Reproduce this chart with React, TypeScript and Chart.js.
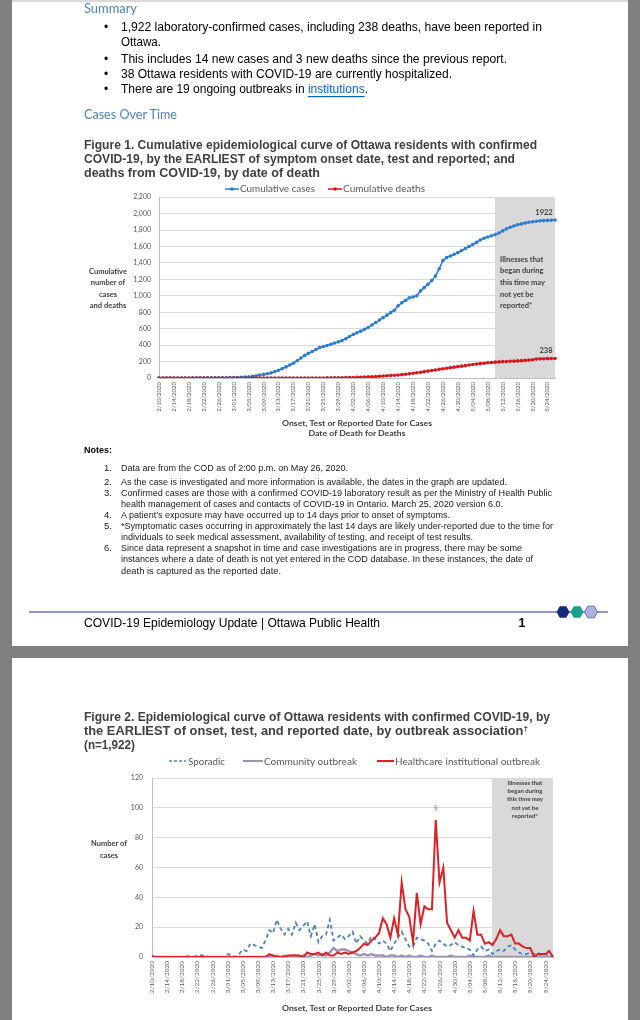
import React, { useEffect, useRef } from 'react';
import { Chart, registerables } from 'chart.js';
Chart.register(...registerables);

// ---------- categories (2/10/2020 .. 5/26/2020, one per day) ----------
const dateLabels: string[] = [];
for (let i = 0; i < 107; i++) {
  const d = new Date(2020, 1, 10 + i);
  dateLabels.push(`${d.getMonth() + 1}/${String(d.getDate()).padStart(2, '0')}/2020`);
}

// ---------- Figure 1: cumulative series ----------
const cumulativeCases = [
  0, 0, 0, 0, 0, 0, 0, 0, 0, 1,
  1, 1, 2, 2, 2, 3, 3, 3, 3, 4,
  5, 6, 8, 12, 16, 22, 28, 36, 44, 52,
  62, 78, 95, 115, 135, 158, 180, 210, 243, 275,
  300, 322, 347, 370, 384, 395, 410, 425, 440, 455,
  478, 505, 530, 550, 570, 592, 615, 645, 675, 705,
  735, 765, 795, 825, 880, 915, 945, 975, 985, 1000,
  1060, 1100, 1140, 1185, 1240, 1330, 1430, 1465, 1485, 1505,
  1525, 1550, 1575, 1600, 1625, 1650, 1680, 1700, 1715, 1730,
  1745, 1765, 1790, 1815, 1835, 1850, 1865, 1875, 1885, 1895,
  1902, 1908, 1912, 1915, 1918, 1920, 1922,
];
const cumulativeDeaths = [
  0, 0, 0, 0, 0, 0, 0, 0, 0, 0,
  0, 0, 0, 0, 0, 0, 0, 0, 0, 0,
  0, 0, 0, 0, 0, 0, 0, 0, 0, 0,
  0, 0, 0, 0, 0, 0, 0, 0, 0, 0,
  0, 0, 0, 0, 0, 1, 1, 2, 3, 3,
  4, 5, 6, 8, 10, 12, 14, 16, 19, 22,
  25, 28, 31, 33, 37, 41, 46, 52, 58, 63,
  70, 77, 84, 91, 98, 105, 112, 119, 126, 132,
  138, 144, 150, 158, 164, 170, 175, 180, 185, 189,
  193, 196, 199, 201, 203, 205, 208, 211, 214, 218,
  222, 230, 233, 235, 236, 237, 238,
];
const fig1YTicks = { min: 0, max: 2200, step: 200 };

// ---------- Figure 2: daily counts by outbreak association ----------
const sporadic = [
  1, 0, 0, 0, 0, 0, 0, 0, 0, 1,
  0, 0, 1, 1, 1, 0, 0, 0, 0, 0,
  2, 1, 0, 2, 5, 4, 9, 8, 7, 6,
  11, 18, 16, 25, 19, 15, 19, 15, 23, 18,
  21, 24, 14, 22, 10, 14, 15, 25, 11, 13,
  15, 12, 14, 17, 9, 14, 11, 9, 14, 12,
  9, 11, 9, 4, 9, 13, 17, 12, 7, 7,
  13, 12, 11, 9, 4, 9, 11, 9, 7, 8,
  10, 8, 7, 6, 5, 1, 5, 7, 4, 5,
  2, 4, 5, 4, 7, 8, 5, 3, 2, 2,
  3, 2, 3, 1, 2, 1, 0,
];
const communityOutbreak = [
  0, 0, 0, 0, 0, 0, 0, 0, 0, 0,
  0, 0, 0, 0, 0, 0, 0, 0, 0, 0,
  0, 0, 0, 0, 0, 0, 0, 0, 0, 0,
  0, 1, 0, 1, 0, 1, 0, 1, 1, 0,
  1, 0, 1, 2, 1, 2, 1, 3, 6, 4,
  5, 5, 4, 3, 2, 1, 2, 1, 2, 1,
  1, 1, 0, 1, 1, 0, 1, 0, 1, 0,
  0, 1, 0, 0, 1, 0, 0, 0, 0, 1,
  0, 0, 0, 0, 1, 0, 0, 0, 0, 1,
  0, 0, 0, 0, 0, 0, 0, 0, 0, 0,
  0, 0, 0, 0, 0, 0, 0,
];
const healthcareOutbreak = [
  0, 0, 0, 0, 0, 0, 0, 0, 0, 0,
  0, 0, 0, 0, 0, 0, 0, 0, 0, 0,
  0, 0, 0, 0, 0, 0, 0, 0, 0, 0,
  0, 2, 1, 0, 0, 0, 1, 1, 1, 1,
  0, 3, 2, 2, 3, 1, 3, 1, 1, 3,
  2, 3, 2, 3, 4, 6, 9, 8, 11, 13,
  16, 26, 22, 13, 26, 15, 50, 32, 27, 10,
  43, 22, 34, 32, 32, 92, 50, 60, 23, 18,
  13, 18, 13, 13, 11, 31, 15, 15, 9, 10,
  8, 12, 18, 14, 14, 15, 9, 9, 7, 6,
  6, 0, 2, 2, 2, 4, 0,
];
const fig2YTicks = { min: 0, max: 120, step: 20 };
const shadeFromIndex = 89.9; // "illnesses may not yet be reported" region starts here

// ---------- plugins ----------
function makeShade(from: number, color: string) {
  return {
    id: 'shade',
    beforeDraw(chart: any) {
      const { ctx, chartArea, scales } = chart;
      const x0 = scales.x.getPixelForValue(from);
      ctx.save();
      ctx.fillStyle = color;
      ctx.fillRect(x0, chartArea.top, chartArea.right - x0, chartArea.bottom - chartArea.top);
      ctx.restore();
    },
  };
}
function makePointText(items: any[]) {
  return {
    id: 'pointText',
    afterDatasetsDraw(chart: any) {
      const { ctx } = chart;
      items.forEach((it) => {
        const el = chart.getDatasetMeta(it.dataset).data[it.index];
        if (!el) return;
        ctx.save();
        ctx.font = it.font;
        ctx.fillStyle = it.color;
        ctx.textAlign = 'center';
        ctx.textBaseline = 'middle';
        ctx.fillText(it.text, el.x + it.dx, el.y + it.dy);
        ctx.restore();
      });
    },
  };
}

const CAL = 'Lato, sans-serif';
const ARIAL = '"Liberation Sans", Arial, sans-serif';

function xScale(fontSize: number, height: number) {
  return {
    type: 'category',
    offset: false,
    grid: { display: false, drawTicks: false },
    border: { display: true, color: '#bfbfbf' },
    ticks: {
      autoSkip: false,
      maxRotation: 90,
      minRotation: 90,
      padding: 4,
      color: '#595959',
      font: { size: fontSize, family: CAL },
      callback: (_v: any, i: number) => (i % 4 === 0 ? dateLabels[i] : ''),
    },
    afterFit: (s: any) => { s.height = height; },
  };
}
function yScale(t: { min: number; max: number; step: number }, width: number, pad: number) {
  return {
    min: t.min,
    max: t.max,
    grid: { color: '#d9d9d9', drawTicks: false },
    border: { display: true, color: '#bfbfbf' },
    ticks: {
      stepSize: t.step,
      padding: pad,
      color: '#595959',
      font: { size: 7, family: CAL },
      callback: (v: any) => Number(v).toLocaleString('en-US'),
    },
    afterFit: (s: any) => { s.width = width; },
  };
}

// ---------- text helper ----------
function Tx(p: any) {
  return (
    <text
      x={p.x}
      y={p.y}
      fontSize={p.s}
      fontFamily={p.f || ARIAL}
      fontWeight={p.b ? 'bold' : 'normal'}
      fill={p.c || '#000'}
      textAnchor={p.a || 'start'}
      dominantBaseline="central"
      textLength={p.w}
      lengthAdjust={p.w ? 'spacingAndGlyphs' : undefined}
    >
      {p.children}
    </text>
  );
}

function hex(cx: number, cy: number, r: number) {
  const h = r * 0.9;
  return `${cx - r},${cy} ${cx - r / 2},${cy - h} ${cx + r / 2},${cy - h} ${cx + r},${cy} ${cx + r / 2},${cy + h} ${cx - r / 2},${cy + h}`;
}

const notes: [string, string, number, number][] = [
  ['1.', 'Data are from the COD as of 2:00 p.m. on May 26, 2020.', 467, 227],
  ['2.', 'As the case is investigated and more information is available, the dates in the graph are updated.', 481, 386],
  ['3.', 'Confirmed cases are those with a confirmed COVID-19 laboratory result as per the Ministry of Health Public', 492, 431],
  ['', 'health management of cases and contacts of COVID-19 in Ontario. March 25, 2020 version 6.0.', 503, 382],
  ['4.', 'A patient\u2019s exposure may have occurred up to 14 days prior to onset of symptoms.', 514, 329],
  ['5.', '*Symptomatic cases occurring in approximately the last 14 days are likely under-reported due to the time for', 525, 432],
  ['', 'individuals to seek medical assessment, availability of testing, and receipt of test results.', 536, 352],
  ['6.', 'Since data represent a snapshot in time and case investigations are in progress, there may be some', 547, 401],
  ['', 'instances where a date of death is not yet entered in the COD database. In these instances, the date of', 558, 412],
  ['', 'death is captured as the reported date.', 570, 160],
];

export default function App() {
  const c1 = useRef<HTMLCanvasElement>(null);
  const c2 = useRef<HTMLCanvasElement>(null);

  useEffect(() => {
    const last = cumulativeCases.length - 1;
    const ch1 = new Chart(c1.current as HTMLCanvasElement, {
      type: 'line',
      data: {
        labels: dateLabels,
        datasets: [
          {
            label: 'Cumulative cases',
            data: cumulativeCases,
            borderColor: '#2a7bd1',
            backgroundColor: '#2a7bd1',
            borderWidth: 1.5,
            pointRadius: 1.8,
            pointBorderWidth: 0,
            order: 2,
          },
          {
            label: 'Cumulative deaths',
            data: cumulativeDeaths,
            borderColor: '#d9161c',
            backgroundColor: '#d9161c',
            borderWidth: 1.5,
            pointRadius: 1.8,
            pointBorderWidth: 0,
            order: 1,
          },
        ],
      },
      options: {
        responsive: false,
        animation: false,
        events: [],
        layout: { padding: { left: 0, right: 15, top: 10, bottom: 0 } },
        plugins: { legend: { display: false }, tooltip: { enabled: false } },
        scales: { x: xScale(6, 37), y: yScale(fig1YTicks, 39, 8) },
      } as any,
      plugins: [
        makeShade(shadeFromIndex, '#d9d9d9'),
        makePointText([
          { dataset: 0, index: last, text: String(cumulativeCases[last]), dx: -11, dy: -7, font: `bold 7.5px ${CAL}`, color: '#404040' },
          { dataset: 1, index: last, text: String(cumulativeDeaths[last]), dx: -9, dy: -8, font: `bold 7.5px ${CAL}`, color: '#404040' },
        ]),
      ] as any,
    });

    const peak = healthcareOutbreak.indexOf(Math.max(...healthcareOutbreak));
    const ch2 = new Chart(c2.current as HTMLCanvasElement, {
      type: 'line',
      data: {
        labels: dateLabels,
        datasets: [
          {
            label: 'Sporadic',
            data: sporadic,
            borderColor: '#4f81bd',
            borderWidth: 1.8,
            borderDash: [4, 3],
            pointRadius: 0,
            order: 2,
          },
          {
            label: 'Community outbreak',
            data: communityOutbreak,
            borderColor: '#9d91b6',
            borderWidth: 2.4,
            pointRadius: 0,
            order: 3,
          },
          {
            label: 'Healthcare institutional outbreak',
            data: healthcareOutbreak,
            borderColor: '#dc2228',
            borderWidth: 2,
            pointRadius: 0,
            order: 1,
          },
        ],
      },
      options: {
        responsive: false,
        animation: false,
        events: [],
        layout: { padding: { left: 0, right: 17, top: 8, bottom: 0 } },
        plugins: { legend: { display: false }, tooltip: { enabled: false } },
        scales: { x: xScale(6.5, 43), y: yScale(fig2YTicks, 42, 9) },
      } as any,
      plugins: [
        makeShade(shadeFromIndex, '#d9d9d9'),
        makePointText([
          { dataset: 2, index: peak, text: '\u00a7', dx: 0, dy: -11, font: `7px ${CAL}`, color: '#7f7f7f' },
        ]),
      ] as any,
    });
    return () => {
      ch1.destroy();
      ch2.destroy();
    };
  }, []);

  const blue = '#4f81bd';
  const title = '#404040';
  const chartText = '#404040';

  return (
    <div style={{ position: 'fixed', left: 0, top: 0, width: 640, height: 1020, background: '#808080', overflow: 'hidden' }}>
      <div style={{ position: 'absolute', left: 12, top: -20, width: 616, height: 666, background: '#fff' }} />
      <div style={{ position: 'absolute', left: 12, top: 658, width: 616, height: 400, background: '#fff' }} />
      <canvas ref={c1} width={450} height={230} style={{ position: 'absolute', left: 120, top: 185, width: 450, height: 230 }} />
      <canvas ref={c2} width={460} height={235} style={{ position: 'absolute', left: 110, top: 765, width: 460, height: 235 }} />
      <svg width={640} height={1020} style={{ position: 'absolute', left: 0, top: 0, pointerEvents: 'none' }}>
        <line x1={12} y1={1} x2={628} y2={1} stroke="#b4b4b4" strokeWidth={1} />
        {/* Summary */}
        <Tx x={84} y={8} s={12.5} f={CAL} c={blue} w={53}>Summary</Tx>
        {[27, 59, 74, 89].map((y) => (
          <Tx key={y} x={106} y={y} s={12} a="middle">{'\u2022'}</Tx>
        ))}
        <Tx x={121} y={27} s={12} w={421}>1,922 laboratory-confirmed cases, including 238 deaths, have been reported in</Tx>
        <Tx x={121} y={42} s={12} w={40}>Ottawa.</Tx>
        <Tx x={121} y={59} s={12} w={386}>This includes 14 new cases and 3 new deaths since the previous report.</Tx>
        <Tx x={121} y={74} s={12} w={331}>38 Ottawa residents with COVID-19 are currently hospitalized.</Tx>
        <text x={121} y={89} fontSize={12} fontFamily={ARIAL} dominantBaseline="central" textLength={247} lengthAdjust="spacingAndGlyphs">
          There are 19 ongoing outbreaks in{' '}
          <tspan fill="#0563c1" style={{ textDecoration: 'underline' }}>institutions</tspan>.
        </text>
        <Tx x={84} y={114} s={12.5} f={CAL} c={blue} w={93}>Cases Over Time</Tx>

        {/* Figure 1 title */}
        <Tx x={84} y={145} s={12.5} b c={title} w={453}>Figure 1. Cumulative epidemiological curve of Ottawa residents with confirmed</Tx>
        <Tx x={84} y={159} s={12.5} b c={title} w={431}>COVID-19, by the EARLIEST of symptom onset date, test and reported; and</Tx>
        <Tx x={84} y={173} s={12.5} b c={title} w={236}>deaths from COVID-19, by date of death</Tx>

        {/* Figure 1 legend */}
        <line x1={225} y1={189} x2={239} y2={189} stroke="#2a7bd1" strokeWidth={1.5} />
        <circle cx={232} cy={189} r={1.8} fill="#2a7bd1" />
        <Tx x={240} y={189} s={8.5} f={CAL} c="#595959" w={75}>Cumulative cases</Tx>
        <line x1={328} y1={189} x2={342} y2={189} stroke="#d9161c" strokeWidth={1.5} />
        <circle cx={335} cy={189} r={1.8} fill="#d9161c" />
        <Tx x={343} y={189} s={8.5} f={CAL} c="#595959" w={82}>Cumulative deaths</Tx>

        {/* Figure 1 axis titles */}
        {['Cumulative', 'number of', 'cases', 'and deaths'].map((t, i) => (
          <Tx key={t} x={108} y={[271, 282, 294, 305][i]} s={7.5} f={CAL} b c={chartText} a="middle">{t}</Tx>
        ))}
        <Tx x={357} y={423} s={8} f={CAL} b c={chartText} a="middle" w={150}>Onset, Test or Reported Date for Cases</Tx>
        <Tx x={357} y={433} s={8} f={CAL} b c={chartText} a="middle" w={97}>Date of Death for Deaths</Tx>
        {['Illnesses that', 'began during', 'this time may', 'not yet be', 'reported*'].map((t, i) => (
          <Tx key={t} x={500} y={259 + i * 11.7} s={7.5} f={CAL} b c={chartText}>{t}</Tx>
        ))}

        {/* Notes */}
        <Tx x={84} y={449} s={9.5} b w={28}>Notes:</Tx>
        {notes.map(([n, t, y, w], i) => (
          <g key={i}>
            {n && <Tx x={104} y={y} s={9.5} c="#1a1a1a">{n}</Tx>}
            <Tx x={121} y={y} s={9.5} c="#1a1a1a" w={w}>{t}</Tx>
          </g>
        ))}

        {/* Footer */}
        <line x1={29} y1={612} x2={608} y2={612} stroke="#6674b8" strokeWidth={1.5} />
        <polygon points={hex(563, 612, 6.5)} fill="#172a7a" />
        <polygon points={hex(577, 612, 6.5)} fill="#17a08b" />
        <polygon points={hex(591, 612, 6.5)} fill="#aeb0e0" stroke="#6a6fb8" strokeWidth={1} />
        <Tx x={84} y={623} s={12.5} w={296}>COVID-19 Epidemiology Update | Ottawa Public Health</Tx>
        <Tx x={522} y={623} s={12.5} b a="middle">1</Tx>

        {/* Figure 2 title */}
        <Tx x={84} y={717} s={12.5} b c={title} w={466}>Figure 2. Epidemiological curve of Ottawa residents with confirmed COVID-19, by</Tx>
        <text x={84} y={731} fontSize={12.5} fontFamily={ARIAL} fontWeight="bold" fill={title} dominantBaseline="central" textLength={444} lengthAdjust="spacingAndGlyphs">
          the EARLIEST of onset, test, and reported date, by outbreak association<tspan fontSize={8} dy={-3}>{'\u2020'}</tspan>
        </text>
        <Tx x={84} y={745} s={12.5} b c={title} w={51}>(n=1,922)</Tx>

        {/* Figure 2 legend */}
        <line x1={169} y1={761} x2={186} y2={761} stroke="#4f81bd" strokeWidth={1.6} strokeDasharray="3,2" />
        <Tx x={188} y={761} s={9} f={CAL} c="#595959" w={37}>Sporadic</Tx>
        <line x1={243} y1={761} x2={263} y2={761} stroke="#9d91b6" strokeWidth={2} />
        <Tx x={264} y={761} s={9} f={CAL} c="#595959" w={93}>Community outbreak</Tx>
        <line x1={377} y1={761} x2={394} y2={761} stroke="#dc2228" strokeWidth={2} />
        <Tx x={395} y={761} s={9} f={CAL} c="#595959" w={145}>Healthcare institutional outbreak</Tx>

        {/* Figure 2 axis titles */}
        <Tx x={109} y={843} s={7.5} f={CAL} b c={chartText} a="middle">Number of</Tx>
        <Tx x={109} y={855} s={7.5} f={CAL} b c={chartText} a="middle">cases</Tx>
        <Tx x={357} y={1008} s={8} f={CAL} b c={chartText} a="middle" w={150}>Onset, Test or Reported Date for Cases</Tx>
        {['Illnesses that', 'began during', 'this time may', 'not yet be', 'reported*'].map((t, i) => (
          <Tx key={t} x={525} y={782 + i * 8.4} s={6} f={CAL} b c={chartText} a="middle">{t}</Tx>
        ))}
      </svg>
    </div>
  );
}
